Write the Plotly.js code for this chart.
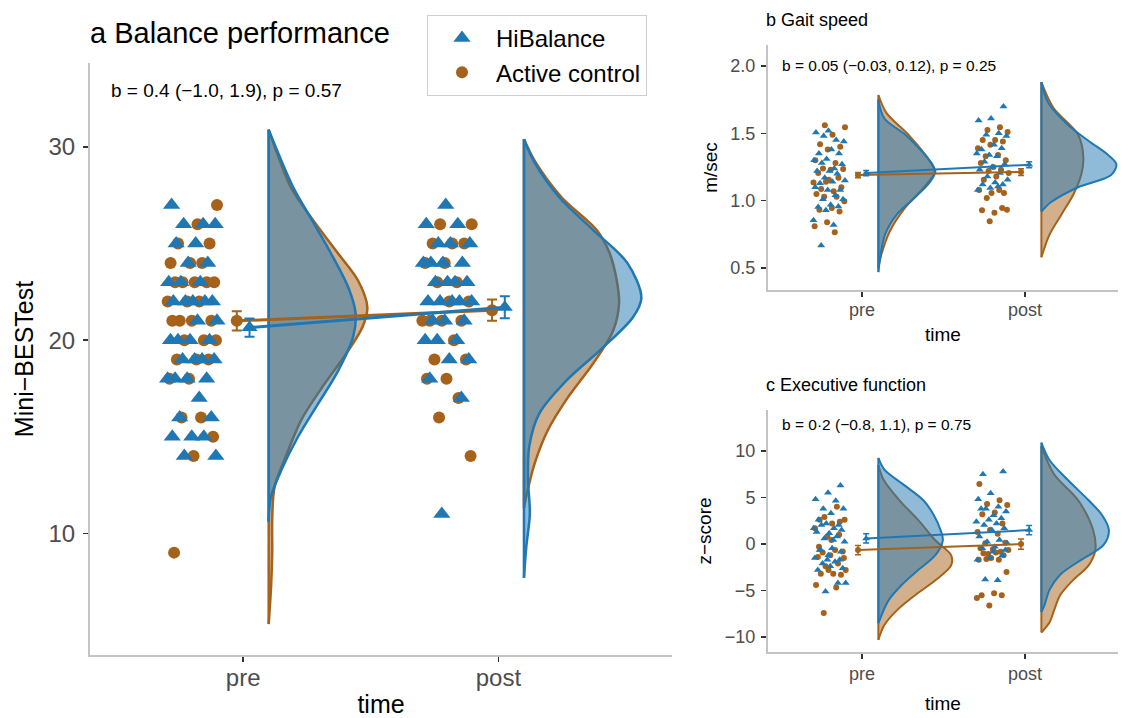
<!DOCTYPE html>
<html>
<head>
<meta charset="utf-8">
<script src="https://cdn.plot.ly/plotly-3.0.1.min.js"></script>
<style>html,body{margin:0;padding:0;background:#fff;}#chart{width:1122px;height:718px;}</style>
</head>
<body>
<div id="chart"></div>
<script>
// ---------- data ----------
const timeLabels = ['pre', 'post'];
const groupNames = ['HiBalance', 'Active control'];

// Panel a: Mini-BESTest (individual scores)
const aPreHi = [27, 26,26,26, 25,25, 24,24, 23,23,23, 22,22,22,22,22, 21,21, 20,20,20,20, 19,19,19,19, 18,18,18,18, 17, 16,16, 15,15,15, 14,14];
const aPreAc = [27, 26, 25,25, 24,24,24, 23,23,23,23,23, 22,22,22, 21,21,21,21, 20,20,20, 19,19,19, 18,18, 16,16, 15, 14, 9];
const aPostHi = [27, 26,26, 25,25,25, 24,24,24,24, 23,23,23,23, 22,22,22,22,22, 21,21,21, 20,20,20, 19,19, 18, 17, 11];
const aPostAc = [26,26, 25,25,25, 24,24, 23,23, 22,22, 21,21,21,21, 20, 19,19, 18,18, 17, 16, 14];
const aMeanHi = [20.65, 21.7];
const aErrHi = [0.47, 0.57];
const aMeanAc = [21.0, 21.55];
const aErrAc = [0.5, 0.55];
// Panel a densities (value grid, relative density)
const aPreHiDv = [10.6, 11.9, 13.3, 15.0, 16.7, 18.4, 20.2, 21.4, 22.7, 24.5, 26.2, 27.9, 29.7, 30.9];
const aPreHiDd = [0, 0.02, 0.11, 0.25, 0.42, 0.59, 0.72, 0.74, 0.68, 0.53, 0.37, 0.21, 0.08, 0];
const aPreAcDv = [5.3, 7.2, 9.0, 10.7, 12.4, 14.2, 15.9, 17.6, 19.3, 20.7, 21.7, 23.1, 24.5, 26.2, 27.9, 29.7, 30.9];
const aPreAcDd = [0, 0.02, 0.03, 0.03, 0.05, 0.16, 0.28, 0.46, 0.66, 0.80, 0.84, 0.76, 0.59, 0.38, 0.19, 0.07, 0];
const aPostHiDv = [7.7, 9.3, 11.0, 12.8, 14.5, 16.2, 17.9, 19.6, 21.2, 22.2, 24.0, 25.7, 27.4, 29.2, 30.4];
const aPostHiDd = [0, 0.02, 0.05, 0.035, 0.045, 0.13, 0.36, 0.67, 0.93, 1.0, 0.88, 0.59, 0.30, 0.09, 0];
const aPostAcDv = [11.3, 12.2, 13.6, 15.3, 17.0, 18.8, 20.5, 21.9, 23.1, 24.5, 25.7, 27.4, 29.2, 30.4];
const aPostAcDd = [0, 0.03, 0.09, 0.20, 0.37, 0.59, 0.76, 0.81, 0.79, 0.73, 0.62, 0.32, 0.10, 0];

// Panel b: gait speed (m/sec)
const bPreHi = [1.52,1.506,1.45,1.48,1.44,1.38,1.35,1.35,1.31,1.30,1.24,1.28,1.27,1.22,1.22,1.20,1.17,1.15,1.14,1.13,1.08,1.08,1.10,1.04,1.01,1.01,0.97,0.953,0.957,0.93,0.854,0.82,0.667];
const bPreAc = [1.56,1.546,1.49,1.42,1.40,1.38,1.30,1.28,1.24,1.235,1.23,1.205,1.17,1.14,1.135,1.07,1.087,1.10,1.155,1.05,1.03,1.03,0.995,0.946,0.933,0.92,0.84,0.81,0.765];
const bPostHi = [1.70,1.61,1.595,1.50,1.49,1.48,1.415,1.38,1.39,1.34,1.35,1.33,1.29,1.27,1.25,1.23,1.205,1.18,1.155,1.135,1.12,1.12,1.095,1.08,1.105];
const bPostAc = [1.546,1.525,1.51,1.45,1.45,1.44,1.415,1.39,1.34,1.33,1.30,1.25,1.28,1.23,1.22,1.205,1.18,1.155,1.057,1.057,1.08,1.08,1.02,0.933,0.91,0.93,0.946,0.847];
const bMeanHi = [1.205, 1.267];
const bErrHi = [0.02, 0.022];
const bMeanAc = [1.19, 1.213];
const bErrAc = [0.02, 0.025];
const bPreHiDv = [0.47, 0.60, 0.75, 0.90, 1.02, 1.14, 1.215, 1.27, 1.36, 1.49, 1.61, 1.75];
const bPreHiDd = [0, 0.03, 0.09, 0.25, 0.48, 0.69, 0.76, 0.72, 0.59, 0.36, 0.08, 0];
const bPreAcDv = [0.50, 0.60, 0.77, 0.95, 1.10, 1.215, 1.29, 1.49, 1.65, 1.785];
const bPreAcDd = [0, 0.04, 0.15, 0.36, 0.61, 0.75, 0.69, 0.40, 0.11, 0];
const bPostHiDv = [0.92, 0.95, 0.99, 1.10, 1.19, 1.27, 1.34, 1.44, 1.56, 1.73, 1.88];
const bPostHiDd = [0, 0.05, 0.13, 0.49, 0.93, 1.0, 0.89, 0.64, 0.36, 0.09, 0];
const bPostAcDv = [0.58, 0.75, 0.90, 1.05, 1.19, 1.32, 1.49, 1.69, 1.88];
const bPostAcDd = [0, 0.11, 0.27, 0.43, 0.53, 0.56, 0.49, 0.16, 0];

// Panel c: executive function (z-score)
const cPreHi = [6.3,5.5,4.8,4.66,3.8,3.8,3.3,2.6,2.04,2.2,1.7,1.7,2.04,1.5,1.15,1.3,0.8,0.6,0.25,-0.46,-0.65,-1.7,-1.7,-1.5,-1.9,-2.1,-2.6,-2.4,-2.8,-4.2,-5.1,-4.2,0.43,-0.65,-0.83,-1.2];
const cPreAc = [4.0,2.9,2.6,2.2,2.6,2.4,0.8,1.7,-0.65,-0.9,-0.8,-1.2,-1.4,-2.1,-2.4,-2.8,-3.2,-3.2,-3.3,-2.8,-4.4,-4.66,-7.4,-1.5,0.43,-0.3,1.0];
const cPostHi = [7.5,7.8,5.45,4.8,4.0,3.8,3.5,3.1,3.8,2.76,2.6,2.4,2.2,2.04,1.7,1.5,0.8,0.43,0.25,0.08,-0.3,-0.46,-1.2,-1.5,-1.7,-3.9,-3.8,-0.65,-0.83];
const cPostAc = [6.45,4.7,4.3,4.2,3.4,3.2,2.2,1.5,1.3,1.1,0.08,0.14,-0.57,-0.46,-0.83,-1.07,-0.65,-0.9,-1.0,-1.2,-1.5,-1.7,-1.7,-1.6,-3.0,-5.3,-5.5,-5.5,-6.6,-5.8];
const cMeanHi = [0.6, 1.5];
const cErrHi = [0.5, 0.5];
const cMeanAc = [-0.65, 0.0];
const cErrAc = [0.5, 0.55];
const cPreHiDv = [-8.5, -7.3, -6.0, -4.4, -2.8, -1.2, 0.4, 1.5, 3.1, 4.7, 6.3, 8.0, 9.25];
const cPreHiDd = [0, 0.06, 0.14, 0.31, 0.53, 0.76, 0.86, 0.83, 0.74, 0.60, 0.35, 0.08, 0];
const cPreAcDv = [-10.3, -8.7, -7.1, -5.5, -3.9, -2.3, -1.2, 0.4, 2.6, 4.7, 6.9, 8.5];
const cPreAcDd = [0, 0.08, 0.25, 0.49, 0.76, 0.97, 0.97, 0.76, 0.53, 0.28, 0.07, 0];
const cPostHiDv = [-7.3, -6.6, -4.9, -3.3, -1.7, -0.1, 1.5, 3.1, 4.7, 6.9, 9.0, 10.9];
const cPostHiDd = [0, 0.04, 0.11, 0.25, 0.53, 0.83, 0.90, 0.81, 0.63, 0.35, 0.11, 0];
const cPostAcDv = [-9.5, -8.4, -7.1, -5.5, -3.9, -2.3, -0.6, 1.5, 4.7, 7.5, 10.5];
const cPostAcDd = [0, 0.11, 0.17, 0.25, 0.42, 0.63, 0.72, 0.69, 0.49, 0.17, 0];

// ---------- styling ----------
const BLUE = '#1f78b4', BROWN = '#a6611a';
const BLUE_F = 'rgba(31,120,180,0.5)', BROWN_F = 'rgba(166,97,26,0.5)';
const FONT = 'Liberation Sans, Arial, sans-serif';

// deterministic spread of points around their time position
function jitter(n, seed, amp){const out=[];for(let i=0;i<n;i++){const u=((i+1)*0.6180339887+seed*0.37)%1;out.push((u-0.5)*2*amp);}return out;}

const traces = [];
function panel(ax, d, opt){
  const xa='x'+(ax===1?'':ax), ya='y'+(ax===1?'':ax);
  const groups=[
    {pts:[d.preAc,d.postAc], dens:[[d.preAcDv,d.preAcDd],[d.postAcDv,d.postAcDd]], color:BROWN, fill:BROWN_F, sym:'circle', name:groupNames[1], rank:2},
    {pts:[d.preHi,d.postHi], dens:[[d.preHiDv,d.preHiDd],[d.postHiDv,d.postHiDd]], color:BLUE, fill:BLUE_F, sym:'triangle-up', name:groupNames[0], rank:1}
  ];
  const sc = 0.46;
  groups.forEach(g=>{
    g.dens.forEach((dd,ti)=>{
      const base=(ti+1)+0.1, vs=dd[0], ds=dd[1];
      const xs=[], ys=[];
      for(let i=0;i<vs.length;i++){xs.push(base+ds[i]*sc);ys.push(vs[i]);}
      traces.push({type:'scatter',mode:'lines',x:xs,y:ys,xaxis:xa,yaxis:ya,fill:'toself',fillcolor:g.fill,
        line:{color:g.color,width:opt.vw,shape:'spline',smoothing:0.9},hoverinfo:'skip',showlegend:false});
      traces.push({type:'scatter',mode:'lines',x:[base,base],y:[vs[0],vs[vs.length-1]],xaxis:xa,yaxis:ya,
        line:{color:g.color,width:opt.vw},hoverinfo:'skip',showlegend:false});
    });
  });
  groups.forEach((g,gi)=>{
    const xs=[], ys=[];
    g.pts.forEach((v,ti)=>{const j=jitter(v.length, gi*3+ti+ax, 0.1);v.forEach((y,i)=>{xs.push((ti+1)-0.2+j[i]);ys.push(y);});});
    traces.push({type:'scatter',mode:'markers',x:xs,y:ys,xaxis:xa,yaxis:ya,name:g.name,legendrank:g.rank,
      showlegend:ax===1,marker:{symbol:g.sym,color:g.color,size:g.sym==='circle'?opt.cs:opt.ts,line:{width:0}},hoverinfo:'skip'});
  });
  const mg=[{m:d.mAc,e:d.eAc,color:BROWN,sym:'circle',dx:-0.025},{m:d.mHi,e:d.eHi,color:BLUE,sym:'triangle-up',dx:0.025}];
  mg.forEach(g=>{
    traces.push({type:'scatter',mode:'lines+markers',x:[1+g.dx,2+g.dx],y:g.m,xaxis:xa,yaxis:ya,showlegend:false,
      line:{color:g.color,width:opt.lw},marker:{symbol:g.sym,color:g.color,size:g.sym==='circle'?opt.mcs:opt.mts},
      error_y:{type:'data',array:g.e,visible:true,color:g.color,thickness:opt.ew,width:opt.cap},hoverinfo:'skip'});
  });
}
panel(1, {preHi:aPreHi,preAc:aPreAc,postHi:aPostHi,postAc:aPostAc,mHi:aMeanHi,eHi:aErrHi,mAc:aMeanAc,eAc:aErrAc,
  preHiDv:aPreHiDv,preHiDd:aPreHiDd,preAcDv:aPreAcDv,preAcDd:aPreAcDd,postHiDv:aPostHiDv,postHiDd:aPostHiDd,postAcDv:aPostAcDv,postAcDd:aPostAcDd},
  {vw:2.5, ts:15, cs:12, lw:3, mts:14, mcs:12, ew:2, cap:5});
panel(2, {preHi:bPreHi,preAc:bPreAc,postHi:bPostHi,postAc:bPostAc,mHi:bMeanHi,eHi:bErrHi,mAc:bMeanAc,eAc:bErrAc,
  preHiDv:bPreHiDv,preHiDd:bPreHiDd,preAcDv:bPreAcDv,preAcDd:bPreAcDd,postHiDv:bPostHiDv,postHiDd:bPostHiDd,postAcDv:bPostAcDv,postAcDd:bPostAcDd},
  {vw:2, ts:7, cs:6, lw:2, mts:7, mcs:6, ew:1.5, cap:3});
panel(3, {preHi:cPreHi,preAc:cPreAc,postHi:cPostHi,postAc:cPostAc,mHi:cMeanHi,eHi:cErrHi,mAc:cMeanAc,eAc:cErrAc,
  preHiDv:cPreHiDv,preHiDd:cPreHiDd,preAcDv:cPreAcDv,preAcDd:cPreAcDd,postHiDv:cPostHiDv,postHiDd:cPostHiDd,postAcDv:cPostAcDv,postAcDd:cPostAcDd},
  {vw:2, ts:7, cs:6, lw:2, mts:7, mcs:6, ew:1.5, cap:3});

const W=1122,H=718;
function px(x){return x/W;} function py(y){return 1-y/H;}
const axLine={showline:true,linecolor:'#c4c4c4',linewidth:2,ticks:'outside',ticklen:5,tickwidth:1.5,tickcolor:'#333',showgrid:false,zeroline:false,fixedrange:true};
const layout={
  width:W,height:H,margin:{l:0,r:0,t:0,b:0},paper_bgcolor:'#fff',plot_bgcolor:'#fff',
  font:{family:FONT,color:'#000'},
  showlegend:true,
  legend:{x:px(427),y:py(15),xanchor:'left',yanchor:'top',bgcolor:'#fff',bordercolor:'#cfcfcf',borderwidth:1,
    font:{size:24,family:FONT,color:'#000'},itemsizing:'trace',itemwidth:58,tracegroupgap:0},
  xaxis:Object.assign({},axLine,{domain:[px(90),px(672)],range:[0.4,2.68],tickvals:[1,2],ticktext:timeLabels,anchor:'y',ticklabelstandoff:-5,
    tickfont:{size:24,color:'#4d4d4d'},title:{text:'time',font:{size:25,color:'#000'},standoff:7}}),
  yaxis:Object.assign({},axLine,{domain:[py(655),py(63)],range:[3.7,34.35],tickvals:[10,20,30],anchor:'x',ticklabelstandoff:3,
    tickfont:{size:24,color:'#4d4d4d'},title:{text:'Mini\u2212BESTest',font:{size:25,color:'#000'},standoff:8}}),
  xaxis2:Object.assign({},axLine,{domain:[px(768),px(1118)],range:[0.423,2.57],tickvals:[1,2],ticktext:timeLabels,anchor:'y2',ticklabelstandoff:-3,
    tickfont:{size:18,color:'#4d4d4d'},title:{text:'time',font:{size:19,color:'#000'},standoff:9}}),
  yaxis2:Object.assign({},axLine,{domain:[py(290),py(45)],range:[0.337,2.156],tickvals:[0.5,1.0,1.5,2.0],ticktext:['0.5','1.0','1.5','2.0'],anchor:'x2',ticklabelstandoff:2,
    tickfont:{size:18,color:'#4d4d4d'},title:{text:'m/sec',font:{size:19,color:'#000'},standoff:8}}),
  xaxis3:Object.assign({},axLine,{domain:[px(768),px(1118)],range:[0.423,2.57],tickvals:[1,2],ticktext:timeLabels,anchor:'y3',ticklabelstandoff:-1,
    tickfont:{size:18,color:'#4d4d4d'},title:{text:'time',font:{size:19,color:'#000'},standoff:14}}),
  yaxis3:Object.assign({},axLine,{domain:[py(652),py(410)],range:[-11.6,14.4],tickvals:[-10,-5,0,5,10],ticktext:['\u221210','\u22125','0','5','10'],anchor:'x3',ticklabelstandoff:2,
    tickfont:{size:18,color:'#4d4d4d'},title:{text:'z\u2212score',font:{size:19,color:'#000'},standoff:8}}),
  annotations:[
    {text:'a Balance performance',xref:'paper',yref:'paper',x:px(88),y:py(33),xanchor:'left',yanchor:'middle',showarrow:false,font:{size:29,color:'#000'}},
    {text:'b = 0.4 (\u22121.0, 1.9), p = 0.57',xref:'paper',yref:'paper',x:px(109),y:py(90),xanchor:'left',yanchor:'middle',showarrow:false,font:{size:19,color:'#000'}},
    {text:'b Gait speed',xref:'paper',yref:'paper',x:px(764),y:py(20),xanchor:'left',yanchor:'middle',showarrow:false,font:{size:18,color:'#000'}},
    {text:'b = 0.05 (\u22120.03, 0.12), p = 0.25',xref:'paper',yref:'paper',x:px(780),y:py(66),xanchor:'left',yanchor:'middle',showarrow:false,font:{size:15.5,color:'#000'}},
    {text:'c Executive function',xref:'paper',yref:'paper',x:px(764),y:py(385),xanchor:'left',yanchor:'middle',showarrow:false,font:{size:18,color:'#000'}},
    {text:'b = 0\u00b72 (\u22120.8, 1.1), p = 0.75',xref:'paper',yref:'paper',x:px(780),y:py(424),xanchor:'left',yanchor:'middle',showarrow:false,font:{size:15.5,color:'#000'}}
  ]
};
Plotly.newPlot('chart',traces,layout,{displayModeBar:false,staticPlot:true});
</script>
</body>
</html>
